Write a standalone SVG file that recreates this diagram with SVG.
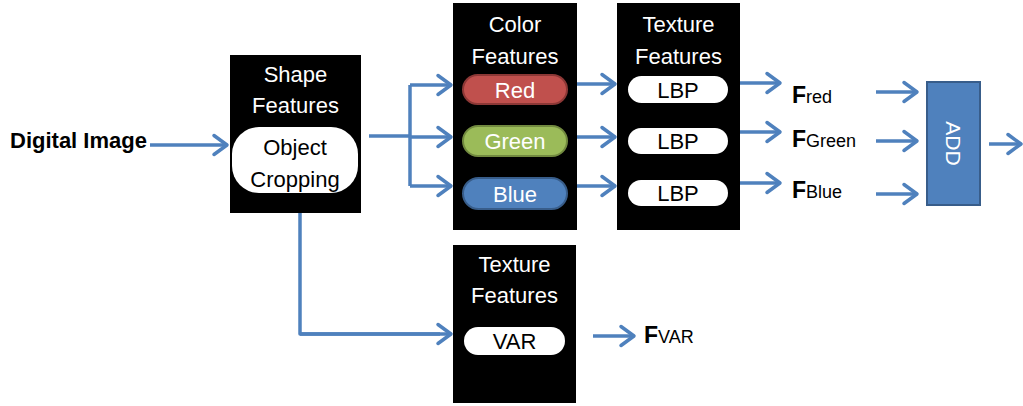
<svg xmlns="http://www.w3.org/2000/svg" width="1023" height="406" viewBox="0 0 1023 406">
<style>
.blk{fill:#000;}
.hd{font-family:"Liberation Sans",Arial,sans-serif;font-size:22px;fill:#fff;text-anchor:middle;}
.pt{font-family:"Liberation Sans",Arial,sans-serif;font-size:22px;text-anchor:middle;}
.wp{fill:#fff;}
.ln{fill:none;stroke:#4f81bd;stroke-width:3.5;stroke-linejoin:round;}
.ar{fill:none;stroke:#4f81bd;stroke-width:3.5;marker-end:url(#ah);}
.fb{font-family:"Liberation Sans",Arial,sans-serif;font-weight:bold;font-size:23px;fill:#000;}
.fs{font-family:"Liberation Sans",Arial,sans-serif;font-size:18px;font-weight:normal;}
</style>
<defs>
<marker id="ah" markerUnits="userSpaceOnUse" markerWidth="20" markerHeight="24" refX="15" refY="12" orient="auto" overflow="visible">
<path d="M2,2.5 L15,12 L2,21.5" fill="none" stroke="#4f81bd" stroke-width="3.5" stroke-linecap="round" stroke-linejoin="round"/>
</marker>
</defs>
<rect width="1023" height="406" fill="#fff"/>

<g id="connectors">
<line class="ar" x1="150" y1="145" x2="227" y2="145"/>
<line class="ln" x1="369" y1="136" x2="410" y2="136"/>
<line class="ln" x1="410" y1="85" x2="410" y2="186"/>
<line class="ar" x1="410" y1="85" x2="451" y2="85"/>
<line class="ar" x1="410" y1="137" x2="451" y2="137"/>
<line class="ar" x1="410" y1="186" x2="451" y2="186"/>
<line class="ln" x1="575" y1="84" x2="575" y2="186"/>
<line class="ar" x1="570" y1="84" x2="615" y2="84"/>
<line class="ar" x1="570" y1="137" x2="615" y2="137"/>
<line class="ar" x1="575" y1="186" x2="615" y2="186"/>
<line class="ln" x1="738" y1="83" x2="738" y2="183"/>
<line class="ar" x1="730" y1="83" x2="780" y2="83"/>
<line class="ar" x1="738" y1="132" x2="780" y2="132"/>
<line class="ar" x1="738" y1="183" x2="780" y2="183"/>
<line class="ar" x1="876" y1="92" x2="917" y2="92"/>
<line class="ar" x1="876" y1="141" x2="917" y2="141"/>
<line class="ar" x1="876" y1="194" x2="917" y2="194"/>
<line class="ar" x1="989" y1="144" x2="1021" y2="144"/>
<polyline class="ln" points="300,213 300,334 440,334"/>
<line class="ar" x1="300" y1="334" x2="451" y2="334"/>
<line class="ar" x1="593" y1="336" x2="634" y2="336"/>
</g>

<g id="digital-image">
<text x="10" y="148" font-family="Liberation Sans,Arial,sans-serif" font-weight="bold" font-size="22" fill="#000">Digital Image</text>
</g>

<g id="shape-features">
<rect class="blk" x="230" y="55" width="131" height="158"/>
<text class="hd" x="295.5" y="82">Shape</text>
<text class="hd" x="295.5" y="113">Features</text>
<rect class="wp" x="232" y="127" width="126" height="66" rx="27"/>
<text class="pt" x="295" y="155" fill="#000">Object</text>
<text class="pt" x="295" y="187" fill="#000">Cropping</text>
</g>

<g id="color-features">
<rect class="blk" x="453" y="3" width="124" height="227"/>
<text class="hd" x="515" y="32">Color</text>
<text class="hd" x="515" y="64">Features</text>
<rect x="463" y="75" width="104" height="29" rx="14.5" fill="#c0504d" stroke="#8c3836" stroke-width="2"/>
<text class="pt" x="515" y="97.5" fill="#fff">Red</text>
<rect x="463" y="126" width="104" height="30" rx="15" fill="#9bbb59" stroke="#71893f" stroke-width="2"/>
<text class="pt" x="515" y="149" fill="#fff">Green</text>
<rect x="463" y="178" width="104" height="31" rx="15.5" fill="#4f81bd" stroke="#385d8a" stroke-width="2"/>
<text class="pt" x="515" y="201.5" fill="#fff">Blue</text>
</g>

<g id="texture-lbp">
<rect class="blk" x="617" y="3" width="123" height="227"/>
<text class="hd" x="678.5" y="32">Texture</text>
<text class="hd" x="678.5" y="64">Features</text>
<rect class="wp" x="628" y="76" width="100" height="27" rx="13.5"/>
<text class="pt" x="678" y="97.5" fill="#000">LBP</text>
<rect class="wp" x="628" y="128" width="100" height="26" rx="13"/>
<text class="pt" x="678" y="149" fill="#000">LBP</text>
<rect class="wp" x="628" y="180" width="100" height="26" rx="13"/>
<text class="pt" x="678" y="201" fill="#000">LBP</text>
</g>

<g id="f-labels">
<text class="fb" x="792" y="103">F<tspan class="fs">red</tspan></text>
<text class="fb" x="792" y="147">F<tspan class="fs">Green</tspan></text>
<text class="fb" x="792" y="198">F<tspan class="fs">Blue</tspan></text>
</g>

<g id="add">
<rect x="927" y="82" width="53" height="123" fill="#4f81bd" stroke="#385d8a" stroke-width="2"/>
<text x="953.5" y="143.5" transform="rotate(90 953.5 143.5)" font-family="Liberation Sans,Arial,sans-serif" font-size="21" fill="#fff" text-anchor="middle" dominant-baseline="central">ADD</text>
</g>

<g id="texture-var">
<rect class="blk" x="453" y="245" width="123" height="158"/>
<text class="hd" x="514.5" y="272">Texture</text>
<text class="hd" x="514.5" y="303">Features</text>
<rect class="wp" x="464" y="327" width="101" height="28" rx="14"/>
<text class="pt" x="514.5" y="349" fill="#000">VAR</text>
</g>

<g id="fvar">
<text class="fb" x="644" y="343">F<tspan class="fs">VAR</tspan></text>
</g>
</svg>
